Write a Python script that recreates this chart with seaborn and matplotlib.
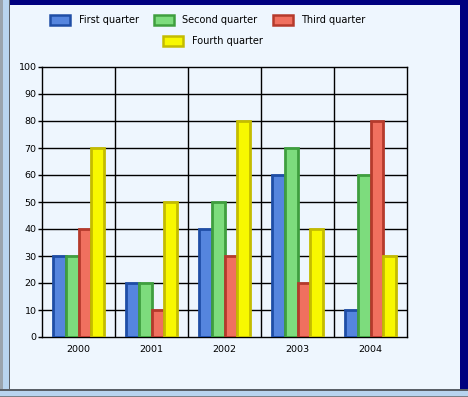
import pandas as pd
import matplotlib
matplotlib.use('Agg')
import matplotlib.pyplot as plt
import seaborn as sns
from matplotlib.patches import Rectangle, Patch

# chart values
years = ['2000', '2001', '2002', '2003', '2004']
quarters = ['First quarter', 'Second quarter', 'Third quarter', 'Fourth quarter']
first_q = [30, 20, 40, 60, 10]
second_q = [30, 20, 50, 70, 60]
third_q = [40, 10, 30, 20, 80]
fourth_q = [70, 50, 80, 40, 30]

fill_colors = ['#5585de', '#7ddc7d', '#f0705f', '#f8f800']
edge_colors = ['#1f4ea6', '#3f9f3f', '#b53a2c', '#c4bc00']
bg = '#eef6fe'

rows = []
for q, vals in zip(quarters, [first_q, second_q, third_q, fourth_q]):
    for y, v in zip(years, vals):
        rows.append({'year': y, 'quarter': q, 'value': v})
df = pd.DataFrame(rows)

sns.set_style('white')
plt.rcParams['font.family'] = ['DejaVu Sans']
plt.rcParams['text.color'] = 'black'
plt.rcParams['xtick.color'] = 'black'
plt.rcParams['ytick.color'] = 'black'

fig = plt.figure(figsize=(4.68, 3.97), dpi=100, facecolor=bg)
ax = fig.add_axes([42 / 468, 60 / 397, 365 / 468, 270 / 397])
ax.set_facecolor(bg)

sns.barplot(data=df, x='year', y='value', hue='quarter', hue_order=quarters,
            palette=fill_colors, saturation=1, width=0.71, ax=ax,
            legend=False, zorder=3)

# bevelled look: darker edge on each bar
for container, ec in zip(ax.containers, edge_colors):
    for bar in container:
        bar.set_edgecolor(ec)
        bar.set_linewidth(2.0)

ax.set_ylim(0, 100)
ax.set_xlim(-0.5, 4.5)
ax.set_yticks(range(0, 101, 10))
ax.set_xlabel('')
ax.set_ylabel('')
for y in range(10, 100, 10):
    ax.axhline(y, color='black', lw=1, zorder=1)
for x in [0.5, 1.5, 2.5, 3.5]:
    ax.axvline(x, color='black', lw=1, zorder=1)
for s in ax.spines.values():
    s.set_color('black')
    s.set_linewidth(1)
ax.tick_params(axis='y', left=True, length=3, width=1, labelsize=6.8,
               pad=1, colors='black')
ax.tick_params(axis='x', bottom=False, labelsize=6.8, pad=2, colors='black')

# legend: three on the first row, one centred below
handles = [Patch(facecolor=fc, edgecolor=ec, linewidth=1.8)
           for fc, ec in zip(fill_colors, edge_colors)]
fig.legend(handles[:3], quarters[:3], loc='center', ncol=3,
           bbox_to_anchor=(208 / 468, 1 - 20 / 397), frameon=False,
           fontsize=7, handlelength=2.0, handleheight=1.2,
           columnspacing=1.6, handletextpad=0.9, labelcolor='black')
fig.legend(handles[3:], quarters[3:], loc='center',
           bbox_to_anchor=(213 / 468, 1 - 41 / 397), frameon=False,
           fontsize=7, handlelength=2.0, handleheight=1.2, handletextpad=0.9,
           labelcolor='black')

# window frame around the chart
W, H = 468, 397
frame = [
    (0, 0, 3, H, '#9aa4ae'),
    (3, 0, 6, H, '#b8d4ef'),
    (9, 0, 1, H, '#5a6068'),
    (10, H - 5, W - 10, 5, '#00007f'),
    (460, 8, 8, H - 8, '#00007f'),
    (0, 6, W, 2, '#5a6068'),
    (0, 1, W, 5, '#b8d4ef'),
    (0, 0, W, 1, '#7a8088'),
]
for x0, y0, w, h, c in frame:
    fig.patches.append(Rectangle((x0 / W, y0 / H), w / W, h / H,
                                 transform=fig.transFigure, facecolor=c,
                                 edgecolor='none', zorder=0))

fig.savefig('out.png', dpi=100, facecolor=bg)
